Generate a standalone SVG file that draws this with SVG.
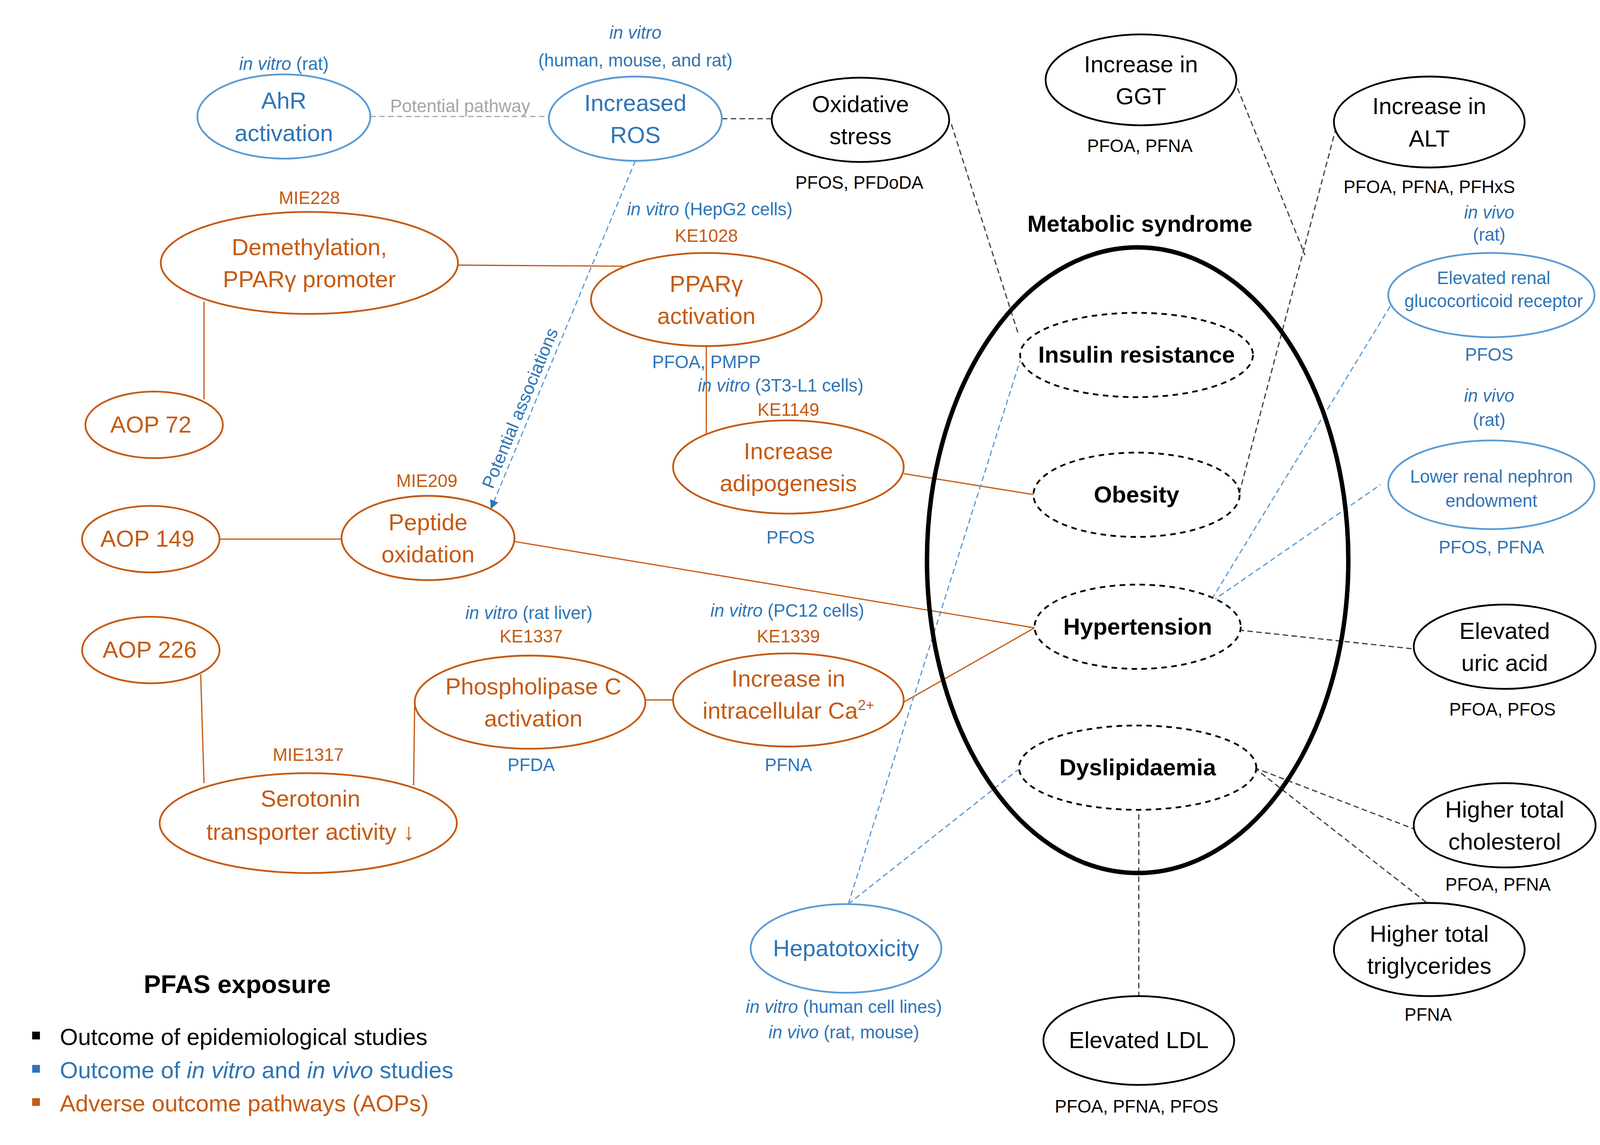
<svg xmlns="http://www.w3.org/2000/svg" width="4451" height="2930" viewBox="0 0 4451 2930">
<style>
text{font-family:"Liberation Sans","Open Sans",sans-serif;text-anchor:middle}
.n{font-size:21px}.s{font-size:16px}.b{font-weight:bold}
.o{fill:#C55A11}.bl{fill:#2E75B6}.k{fill:#000}.g{fill:#A6A6A6}
.eo{fill:#fff;stroke:#C55A11;stroke-width:1.6}
.eb{fill:#fff;stroke:#5B9BD5;stroke-width:1.6}
.ek{fill:#fff;stroke:#000;stroke-width:1.6}
.ed{fill:#fff;stroke:#000;stroke-width:1.6;stroke-dasharray:5 4}
.lo{stroke:#C55A11;stroke-width:1.1;fill:none}
.lb{stroke:#5B9BD5;stroke-width:1.1;fill:none;stroke-dasharray:5 3}
.lk{stroke:#404040;stroke-width:1.1;fill:none;stroke-dasharray:5 3}
.lg{stroke:#A6A6A6;stroke-width:1.1;fill:none;stroke-dasharray:5 3}
</style>
<defs><marker id="ab" markerWidth="8" markerHeight="8" refX="7" refY="4" orient="auto" markerUnits="userSpaceOnUse"><path d="M0,0L8,4L0,8z" fill="#2E75B6"/></marker></defs>
<rect width="4451" height="2930" fill="#fff"/>
<g transform="scale(2.8386)">
<g id="connectors">
<line class="lg" x1="334" y1="105" x2="495" y2="105"/>
<line class="lk" x1="651" y1="107" x2="696" y2="107"/>
<line class="lb" x1="573" y1="145" x2="443" y2="458" marker-end="url(#ab)"/>
<line class="lk" x1="858" y1="112" x2="918" y2="300"/>
<line class="lk" x1="1113" y1="72" x2="1177" y2="230"/>
<line class="lk" x1="1205" y1="115" x2="1117" y2="447"/>
<line class="lo" x1="413" y1="239" x2="562" y2="240"/>
<line class="lo" x1="184" y1="272" x2="184" y2="360"/>
<line class="lo" x1="637" y1="312" x2="637" y2="395"/>
<line class="lo" x1="815" y1="427" x2="933" y2="446"/>
<line class="lo" x1="198" y1="486" x2="308" y2="486"/>
<line class="lo" x1="463" y1="488" x2="933" y2="566"/>
<line class="lo" x1="815" y1="633" x2="933" y2="566"/>
<line class="lo" x1="181" y1="608" x2="184" y2="706"/>
<line class="lo" x1="373" y1="708" x2="374" y2="633"/>
<line class="lo" x1="582" y1="631" x2="607" y2="631"/>
<line class="lb" x1="1093" y1="540" x2="1255" y2="274"/>
<line class="lb" x1="1093" y1="542" x2="1245" y2="437"/>
<line class="lk" x1="1117" y1="568" x2="1275" y2="585"/>
<line class="lk" x1="1131" y1="692" x2="1277" y2="748"/>
<line class="lk" x1="1131" y1="692" x2="1287" y2="814"/>
<line class="lk" x1="1027" y1="726" x2="1027" y2="898"/>
<line class="lb" x1="765" y1="815" x2="920" y2="325"/>
<line class="lb" x1="765" y1="815" x2="918" y2="694"/>
<text class="s g" x="415" y="101">Potential pathway</text>
<text class="s bl" transform="translate(474,370) rotate(-67.5)">Potential associations</text>
</g>
<g id="metabolic"><ellipse cx="1026" cy="505" rx="190" ry="282" fill="none" stroke="#000" stroke-width="4"/><text class="n b k" x="1028" y="209">Metabolic syndrome</text></g>
<g id="ahr"><ellipse class="eb" cx="256" cy="105" rx="78" ry="38"/><text class="n bl" x="256" y="98">AhR</text><text class="n bl" x="256" y="127">activation</text><text class="s bl" x="256" y="63"><tspan font-style="italic">in vitro</tspan> (rat)</text></g>
<g id="ros"><ellipse class="eb" cx="573" cy="107" rx="78" ry="38"/><text class="n bl" x="573" y="100">Increased</text><text class="n bl" x="573" y="129">ROS</text><text class="s bl" x="573" y="35" font-style="italic">in vitro</text><text class="s bl" x="573" y="60">(human, mouse, and rat)</text></g>
<g id="ox"><ellipse class="ek" cx="776" cy="108" rx="80" ry="38"/><text class="n k" x="776" y="101">Oxidative</text><text class="n k" x="776" y="130">stress</text><text class="s k" x="775" y="170">PFOS, PFDoDA</text></g>
<g id="ggt"><ellipse class="ek" cx="1029" cy="72" rx="86" ry="41"/><text class="n k" x="1029" y="65">Increase in</text><text class="n k" x="1029" y="94">GGT</text><text class="s k" x="1028" y="137">PFOA, PFNA</text></g>
<g id="alt"><ellipse class="ek" cx="1289" cy="110" rx="86" ry="41"/><text class="n k" x="1289" y="103">Increase in</text><text class="n k" x="1289" y="132">ALT</text><text class="s k" x="1289" y="174">PFOA, PFNA, PFHxS</text></g>
<g id="insulin"><ellipse class="ed" cx="1025" cy="320" rx="105" ry="38"/><text class="n b k" x="1025" y="327">Insulin resistance</text></g>
<g id="obesity"><ellipse class="ed" cx="1025" cy="446" rx="93" ry="38"/><text class="n b k" x="1025" y="453">Obesity</text></g>
<g id="hyper"><ellipse class="ed" cx="1026" cy="565" rx="93" ry="38"/><text class="n b k" x="1026" y="572">Hypertension</text></g>
<g id="dys"><ellipse class="ed" cx="1026" cy="692" rx="107" ry="38"/><text class="n b k" x="1026" y="699">Dyslipidaemia</text></g>
<g id="renalgr"><ellipse class="eb" cx="1345" cy="266" rx="93" ry="38"/><text class="s bl" x="1347" y="256">Elevated renal</text><text class="s bl" x="1347" y="277">glucocorticoid receptor</text><text class="s bl" x="1343" y="197" font-style="italic">in vivo</text><text class="s bl" x="1343" y="217">(rat)</text><text class="s bl" x="1343" y="325">PFOS</text></g>
<g id="nephron"><ellipse class="eb" cx="1345" cy="437" rx="93" ry="40"/><text class="s bl" x="1345" y="435">Lower renal nephron</text><text class="s bl" x="1345" y="457">endowment</text><text class="s bl" x="1343" y="362" font-style="italic">in vivo</text><text class="s bl" x="1343" y="384">(rat)</text><text class="s bl" x="1345" y="499">PFOS, PFNA</text></g>
<g id="uric"><ellipse class="ek" cx="1357" cy="583" rx="82" ry="38"/><text class="n k" x="1357" y="576">Elevated</text><text class="n k" x="1357" y="605">uric acid</text><text class="s k" x="1355" y="645">PFOA, PFOS</text></g>
<g id="chol"><ellipse class="ek" cx="1357" cy="744" rx="82" ry="38"/><text class="n k" x="1357" y="737">Higher total</text><text class="n k" x="1357" y="766">cholesterol</text><text class="s k" x="1351" y="803">PFOA, PFNA</text></g>
<g id="trig"><ellipse class="ek" cx="1289" cy="856" rx="86" ry="42"/><text class="n k" x="1289" y="849">Higher total</text><text class="n k" x="1289" y="878">triglycerides</text><text class="s k" x="1288" y="920">PFNA</text></g>
<g id="ldl"><ellipse class="ek" cx="1027" cy="938" rx="86" ry="40"/><text class="n k" x="1027" y="945">Elevated LDL</text><text class="s k" x="1025" y="1003">PFOA, PFNA, PFOS</text></g>
<g id="hepato"><ellipse class="eb" cx="763" cy="855" rx="86" ry="40"/><text class="n bl" x="763" y="862">Hepatotoxicity</text><text class="s bl" x="761" y="913"><tspan font-style="italic">in vitro</tspan> (human cell lines)</text><text class="s bl" x="761" y="936"><tspan font-style="italic">in vivo</tspan> (rat, mouse)</text></g>
<g id="demeth"><ellipse class="eo" cx="279" cy="237" rx="134" ry="46"/><text class="n o" x="279" y="230">Demethylation,</text><text class="n o" x="279" y="259">PPARγ promoter</text><text class="s o" x="279" y="184">MIE228</text></g>
<g id="ppar"><ellipse class="eo" cx="637" cy="270" rx="104" ry="42"/><text class="n o" x="637" y="263">PPARγ</text><text class="n o" x="637" y="292">activation</text><text class="s o" x="637" y="218">KE1028</text><text class="s bl" x="640" y="194"><tspan font-style="italic">in vitro</tspan> (HepG2 cells)</text><text class="s bl" x="637" y="332">PFOA, PMPP</text></g>
<g id="aop72"><ellipse class="eo" cx="139" cy="383" rx="62" ry="30"/><text class="n o" x="136" y="390">AOP 72</text></g>
<g id="adipo"><ellipse class="eo" cx="711" cy="421" rx="104" ry="42"/><text class="n o" x="711" y="414">Increase</text><text class="n o" x="711" y="443">adipogenesis</text><text class="s bl" x="704" y="353"><tspan font-style="italic">in vitro</tspan> (3T3-L1 cells)</text><text class="s o" x="711" y="375">KE1149</text><text class="s bl" x="713" y="490">PFOS</text></g>
<g id="aop149"><ellipse class="eo" cx="136" cy="486" rx="62" ry="30"/><text class="n o" x="133" y="493">AOP 149</text></g>
<g id="peptide"><ellipse class="eo" cx="386" cy="485" rx="78" ry="38"/><text class="n o" x="386" y="478">Peptide</text><text class="n o" x="386" y="507">oxidation</text><text class="s o" x="385" y="439">MIE209</text></g>
<g id="aop226"><ellipse class="eo" cx="136" cy="586" rx="62" ry="30"/><text class="n o" x="135" y="593">AOP 226</text></g>
<g id="plc"><ellipse class="eo" cx="478" cy="633" rx="104" ry="42"/><text class="n o" x="481" y="626">Phospholipase C</text><text class="n o" x="481" y="655">activation</text><text class="s bl" x="477" y="558"><tspan font-style="italic">in vitro</tspan> (rat liver)</text><text class="s o" x="479" y="579">KE1337</text><text class="s bl" x="479" y="695">PFDA</text></g>
<g id="ca"><ellipse class="eo" cx="711" cy="631" rx="104" ry="42"/><text class="n o" x="711" y="619">Increase in</text><text class="n o" x="711" y="648">intracellular Ca<tspan font-size="13" dy="-8">2+</tspan></text><text class="s bl" x="710" y="556"><tspan font-style="italic">in vitro</tspan> (PC12 cells)</text><text class="s o" x="711" y="579">KE1339</text><text class="s bl" x="711" y="695">PFNA</text></g>
<g id="serotonin"><ellipse class="eo" cx="278" cy="742" rx="134" ry="45"/><text class="n o" x="280" y="727">Serotonin</text><text class="n o" x="280" y="757">transporter activity ↓</text><text class="s o" x="278" y="686">MIE1317</text></g>
<g id="legend">
<text class="b k" x="214" y="895" font-size="23">PFAS exposure</text>
<rect x="29" y="930" width="7" height="7" fill="#000"/><rect x="29" y="960" width="7" height="7" fill="#2E75B6"/><rect x="29" y="990" width="7" height="7" fill="#C55A11"/>
<text class="n k" x="54" y="942" style="text-anchor:start">Outcome of epidemiological studies</text>
<text class="n bl" x="54" y="972" style="text-anchor:start">Outcome of <tspan font-style="italic">in vitro</tspan> and <tspan font-style="italic">in vivo</tspan> studies</text>
<text class="n o" x="54" y="1002" style="text-anchor:start">Adverse outcome pathways (AOPs)</text>
</g>
</g>
</svg>
